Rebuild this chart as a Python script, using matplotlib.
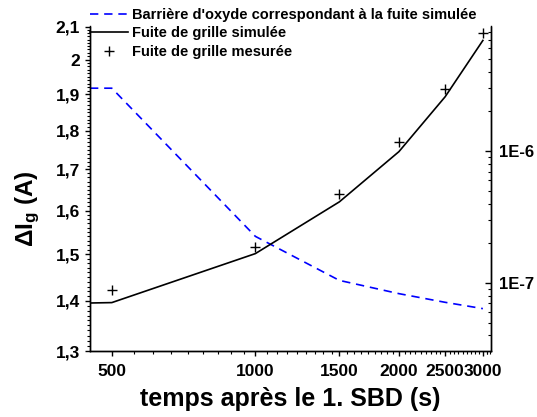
import matplotlib
matplotlib.use('Agg')
import matplotlib.pyplot as plt
from matplotlib.ticker import FixedLocator, FuncFormatter, NullFormatter, LogLocator
import numpy as np

# data
temps = [450, 500, 1000, 1500, 2000, 2500, 3000]
barriere = [1.917, 1.917, 1.540, 1.443, 1.415, 1.397, 1.384]
fuite_sim = [7.05e-8, 7.1e-8, 1.67e-7, 4.12e-7, 9.9e-7, 2.58e-6, 6.9e-6]
temps_mes = [500, 1000, 1500, 2000, 2500, 3000]
fuite_mes = [8.8e-8, 1.86e-7, 4.72e-7, 1.18e-6, 2.94e-6, 7.8e-6]

x_ticks = [500, 1000, 1500, 2000, 2500, 3000]
y_ticks = [1.3, 1.4, 1.5, 1.6, 1.7, 1.8, 1.9, 2.0, 2.1]

plt.rcParams['font.family'] = 'Liberation Sans'
plt.rcParams['font.weight'] = 'bold'
plt.rcParams['mathtext.fontset'] = 'custom'
plt.rcParams['mathtext.rm'] = 'Liberation Sans:bold'
plt.rcParams['mathtext.bf'] = 'Liberation Sans:bold'
plt.rcParams['mathtext.it'] = 'Liberation Sans:bold'

fig = plt.figure(figsize=(5.37, 4.17), dpi=100)
ax = fig.add_axes([90 / 537, 1 - 351 / 417, 401 / 537, 324.5 / 417])
ax2 = ax.twinx()

l1, = ax.plot(temps, barriere, color='#0000ff', lw=1.2, linestyle=(0, (5, 3.5)))
l2, = ax2.plot(temps, fuite_sim, color='black', lw=1.2)
l3, = ax2.plot(temps_mes, fuite_mes, 'k+', ms=6.5, mew=1)

ax.set_xscale('log')
ax.set_yscale('log')
ax2.set_yscale('log')
ax.set_xlim(450, 3120)
ax.set_ylim(1.3, 2.1)
ax2.set_ylim(3.05e-8, 8.8e-6)

# x axis
ax.xaxis.set_major_locator(FixedLocator(x_ticks))
ax.xaxis.set_major_formatter(FuncFormatter(lambda v, p: '%d' % round(v)))
xminor = []
for a in x_ticks:
    for k in range(1, 9):
        xminor.append(a + k * 500 / 9)
xminor.append(3000 + 500 / 9)
ax.xaxis.set_minor_locator(FixedLocator(xminor))
ax.xaxis.set_minor_formatter(NullFormatter())

# left axis
ax.yaxis.set_major_locator(FixedLocator(y_ticks))
ax.yaxis.set_major_formatter(FuncFormatter(lambda v, p: ('%g' % round(v, 2)).replace('.', ',')))
ax.yaxis.set_minor_locator(FixedLocator(np.round(np.arange(1.3, 2.1, 0.01), 2)))
ax.yaxis.set_minor_formatter(NullFormatter())

# right axis
ax2.yaxis.set_major_locator(LogLocator(base=10))
ax2.yaxis.set_major_formatter(FuncFormatter(lambda v, p: '1E%d' % round(np.log10(v))))
ax2.yaxis.set_minor_locator(LogLocator(base=10, subs=np.arange(2, 10)))
ax2.yaxis.set_minor_formatter(NullFormatter())

for a in (ax, ax2):
    for s in a.spines.values():
        s.set_linewidth(1.0)
    a.spines['top'].set_visible(False)

ax.tick_params(axis='both', which='major', direction='out', length=3.6, width=1, labelsize=12.5)
ax.tick_params(axis='both', which='minor', direction='out', length=2, width=0.8)
ax.tick_params(axis='x', pad=6)
ax2.tick_params(axis='y', which='major', direction='in', length=4.5, width=1, labelsize=12, pad=6)
ax2.tick_params(axis='y', which='minor', direction='in', length=2.5, width=0.8)

ax.set_xlabel('temps après le 1. SBD (s)', fontsize=18, fontweight='bold')
ax.xaxis.set_label_coords(0.5, -0.11)
ax.set_ylabel('ΔI$_{g}$ (A)', fontsize=17.5, fontweight='bold')
ax.yaxis.set_label_coords(-0.12, 0.44)

fig.legend([l1, l2, l3],
           ["Barrière d'oxyde correspondant à la fuite simulée",
            'Fuite de grille simulée',
            'Fuite de grille mesurée'],
           loc='upper left', bbox_to_anchor=(90 / 537, 1 - 8 / 417),
           frameon=False, fontsize=10.5, handlelength=2.6, handletextpad=0.3,
           labelspacing=0.3, borderpad=0, borderaxespad=0)

fig.savefig('out.png', dpi=100)
